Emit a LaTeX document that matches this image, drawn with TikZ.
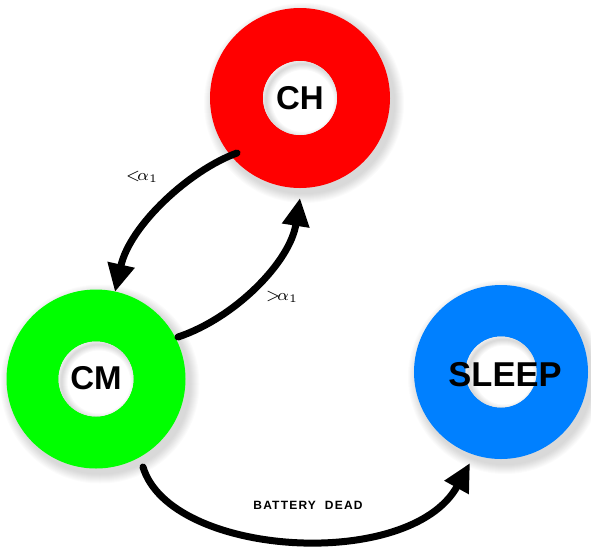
\documentclass[tikz,border=0pt]{standalone}
\usepackage{fontspec}
\setmainfont{Liberation Sans}
\usetikzlibrary{arrows.meta}
\definecolor{ringred}{RGB}{255,0,0}
\definecolor{ringgreen}{RGB}{0,255,0}
\definecolor{ringblue}{RGB}{0,128,255}
\tikzset{
  statelabel/.style={font=\bfseries\fontsize{33}{33}\selectfont, inner sep=0pt},
  edgelabel/.style={inner sep=0pt},
  transition/.style={line width=7pt, line cap=round,
    -{Triangle[length=28pt,width=26pt]}},
}
% ring(center x, center y, outer r, inner r, colour)
\newcommand{\statering}[5]{%
  \foreach \k in {1,...,10}{
    \fill[black, opacity=0.016] (#1+4,#2+5) circle ({#3+\k*1.0});
  }
  \fill[#5, even odd rule] (#1,#2) circle (#3) (#1,#2) circle (#4);
  \fill[white] (#1,#2) circle (#4);
  \begin{scope}
    \clip (#1,#2) circle (#4);
    \foreach \k in {1,...,6}{
      \draw[black, opacity=0.025, line width=\k*2pt] (#1+3,#2+3) circle (#4);
    }
  \end{scope}
}
\newcommand{\thresholdlabel}[1]{\scalebox{2.3}{$\scriptstyle#1\!\alpha_{\scriptscriptstyle 1}$}}
\begin{document}
\begin{tikzpicture}[x=1pt, y=-1pt]
  \useasboundingbox (0,0) rectangle (591,547);

  \statering{300}{98}{90}{37}{ringred}
  \statering{96}{379}{89.5}{37.5}{ringgreen}
  \statering{501}{372}{87}{35.5}{ringblue}

  \node[statelabel] (ch) at (300,98) {CH};
  \node[statelabel] (cm) at (96,378) {CM};
  \node[statelabel, font=\bfseries\fontsize{34.5}{34.5}\selectfont] (sleep) at (505,375) {SLEEP};

  % connector end points on the rings
  \coordinate (chout) at (237,153);
  \coordinate (cmin) at (115,292);
  \coordinate (cmout) at (178,337);
  \coordinate (chin) at (300,198);
  \coordinate (cmdown) at (143,467);
  \coordinate (sleepin) at (470,463);

  \draw[transition] (chout) .. controls (190,170) and (130,225) .. (cmin);
  \draw[transition] (cmout) .. controls (235,318) and (290,262) .. (chin);
  \draw[transition] (cmdown) .. controls (170,557) and (410,572) .. (sleepin);

  \node[edgelabel] (lblless) at (142,177) {\thresholdlabel{<}};
  \node[edgelabel] (lblmore) at (282,297) {\thresholdlabel{>}};
  \node[font=\bfseries\fontsize{12}{12}\addfontfeature{LetterSpace=10}\selectfont, inner sep=0pt]
    (lbldead) at (308,505) {BATTERY\ \ DEAD};
\end{tikzpicture}
\end{document}
